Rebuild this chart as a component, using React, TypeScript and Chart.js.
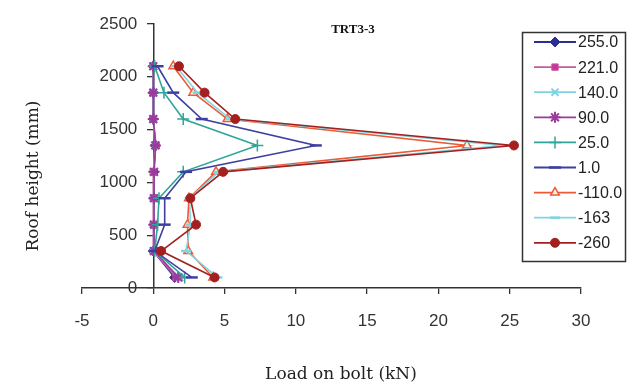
import React, { useEffect, useRef } from 'react';
import { Chart, registerables } from 'chart.js';
import { drawPoint } from 'chart.js/helpers';

Chart.register(...registerables);

// Roof height of each bolt (mm)
const heights = [100, 350, 600, 850, 1100, 1350, 1600, 1850, 2100];

// Load on bolt (kN) per series
const s255 = [1.5, 0.0, 0.05, 0.05, 0.05, 0.15, 0.0, 0.0, 0.0];
const s221 = [1.6, 0.0, 0.0, 0.0, 0.0, 0.2, 0.0, 0.0, 0.0];
const s140 = [1.85, 0.0, 0.05, 0.05, 0.0, 0.1, 0.0, 0.0, 0.0];
const s90 = [1.75, 0.05, 0.05, 0.05, 0.05, 0.15, 0.0, 0.0, 0.0];
const s25 = [2.2, 0.1, 0.3, 0.4, 2.1, 7.3, 2.1, 0.75, 0.1];
const s1 = [2.7, 0.1, 0.8, 0.8, 2.3, 11.4, 3.4, 1.4, 0.3];
const sm110 = [4.2, 2.45, 2.4, 2.5, 4.4, 22.0, 5.2, 2.8, 1.4];
const sm163 = [4.5, 2.3, 2.6, 2.55, 4.6, 24.5, 5.4, 3.1, 1.6];
const sm260 = [4.3, 0.55, 3.0, 2.6, 4.9, 25.3, 5.75, 3.6, 1.8];

const seriesLabels = ['255.0', '221.0', '140.0', '90.0', '25.0', '1.0', '-110.0', '-163', '-260'];
const seriesValues = [s255, s221, s140, s90, s25, s1, sm110, sm163, sm260];

const xTicks = [-5, 0, 5, 10, 15, 20, 25, 30];
const yTicks = [0, 500, 1000, 1500, 2000, 2500];

const chartTitle = 'TRT3-3';
const xTitle = 'Load on bolt (kN)';
const yTitle = 'Roof height (mm)';

const styles = [
  { line: '#2B2F8F', point: 'rectRot', fill: '#2B2F8F', r: 5, bw: 1 },
  { line: '#C65AA2', point: 'rect', fill: '#CC3399', r: 4.5, bw: 1 },
  { line: '#7DD3E3', point: 'crossRot', fill: '#7DD3E3', r: 5, bw: 2 },
  { line: '#9A3A9A', point: 'star', fill: '#9A3A9A', r: 5.5, bw: 2 },
  { line: '#2FA59A', point: 'cross', fill: '#2FA59A', r: 6, bw: 1.5 },
  { line: '#3E40A0', point: 'line', fill: '#3E40A0', r: 6, bw: 2.5 },
  { line: '#EC5A36', point: 'triangle', fill: 'rgba(255,255,255,0.85)', r: 5, bw: 1.5 },
  { line: '#7FD6E0', point: 'line', fill: '#7FD6E0', r: 5, bw: 2.5 },
  { line: '#A3201F', point: 'circle', fill: '#A3201F', r: 4.5, bw: 1 },
];

const overlayPlugin = {
  id: 'overlay',
  afterDraw(chart: any) {
    const ctx = chart.ctx as CanvasRenderingContext2D;
    const xs = chart.scales.x;
    const ys = chart.scales.y;
    ctx.save();
    // y tick labels, left of the axis at x = 0
    ctx.fillStyle = '#333';
    ctx.font = '17px "Liberation Sans"';
    ctx.textAlign = 'right';
    ctx.textBaseline = 'middle';
    const axisX = xs.getPixelForValue(0);
    yTicks.forEach((v) => {
      ctx.fillText(String(v), axisX - 16, ys.getPixelForValue(v));
    });
    // chart title
    ctx.fillStyle = '#111';
    ctx.textAlign = 'center';
    ctx.font = 'bold 13px "Liberation Serif"';
    ctx.fillText(chartTitle, 353, 30);
    // axis titles
    ctx.fillStyle = '#222';
    ctx.font = '17px "DejaVu Serif"';
    ctx.fillText(xTitle, 341, 375);
    ctx.save();
    ctx.translate(34, 176);
    ctx.rotate(-Math.PI / 2);
    ctx.fillText(yTitle, 0, 0);
    ctx.restore();
    // legend
    const bx = 522, by = 32, bw = 104, bh = 230;
    ctx.fillStyle = '#fff';
    ctx.fillRect(bx, by, bw, bh);
    ctx.strokeStyle = '#333';
    ctx.lineWidth = 1.5;
    ctx.strokeRect(bx + 0.5, by + 0.5, bw - 1, bh - 1);
    seriesLabels.forEach((label, i) => {
      const st = styles[i];
      const y = 42 + i * 25.1;
      ctx.strokeStyle = st.line;
      ctx.lineWidth = 1.8;
      ctx.beginPath();
      ctx.moveTo(534, y);
      ctx.lineTo(576, y);
      ctx.stroke();
      ctx.fillStyle = st.fill;
      ctx.strokeStyle = st.line;
      ctx.lineWidth = st.bw;
      drawPoint(ctx, { pointStyle: st.point, radius: st.r, rotation: 0, borderWidth: st.bw } as any, 555, y);
      ctx.fillStyle = '#222';
      ctx.textAlign = 'left';
      ctx.textBaseline = 'middle';
      ctx.font = '16px "Liberation Sans"';
      ctx.fillText(label, 578, y + 1);
    });
    ctx.restore();
  },
};

export default function App() {
  const ref = useRef<HTMLCanvasElement | null>(null);
  useEffect(() => {
    document.body.style.margin = '0';
    const canvas = ref.current;
    if (!canvas) return;
    const datasets = seriesValues.map((vals, i) => {
      const st = styles[i];
      return {
        label: seriesLabels[i],
        data: heights.map((h, k) => ({ x: vals[k], y: h })),
        order: seriesValues.length - i,
        showLine: true,
        borderColor: st.line,
        borderWidth: 1.6,
        backgroundColor: st.fill,
        pointStyle: st.point,
        pointRadius: st.r,
        pointBorderColor: st.line,
        pointBackgroundColor: st.fill,
        pointBorderWidth: st.bw,
        tension: 0,
        fill: false,
      };
    });
    const chart = new Chart(canvas, {
      type: 'scatter',
      data: { datasets },
      plugins: [overlayPlugin],
      options: {
        responsive: false,
        animation: false,
        layout: { padding: { left: 82, right: 48, top: 24, bottom: 0 } },
        plugins: { legend: { display: false }, tooltip: { enabled: false }, title: { display: false } },
        scales: {
          x: {
            type: 'linear',
            position: 'bottom',
            min: -5,
            max: 30,
            afterBuildTicks: (s: any) => { s.ticks = xTicks.map((v) => ({ value: v })); },
            afterFit: (s: any) => { s.height = 100; },
            grid: { drawOnChartArea: false, drawTicks: true, tickLength: 6, color: '#333', lineWidth: 1.3 },
            border: { display: true, color: '#333', width: 1.5 },
            ticks: {
              color: '#333',
              font: { family: '"Liberation Sans"', size: 17 },
              padding: 17,
              maxRotation: 0,
              autoSkip: false,
              callback: (v: any) => String(v),
            },
          },
          y: {
            type: 'linear',
            position: { x: 0 } as any,
            min: 0,
            max: 2500,
            afterBuildTicks: (s: any) => { s.ticks = yTicks.map((v) => ({ value: v })); },
            grid: { drawOnChartArea: false, drawTicks: true, tickLength: 6, color: '#333', lineWidth: 1.3 },
            border: { display: true, color: '#333', width: 1.5 },
            ticks: { display: false },
          },
        },
      },
    });
    return () => chart.destroy();
  }, []);
  return (
    <div style={{ width: 629, height: 388, background: '#fff' }}>
      <canvas ref={ref} width={629} height={388} />
    </div>
  );
}
